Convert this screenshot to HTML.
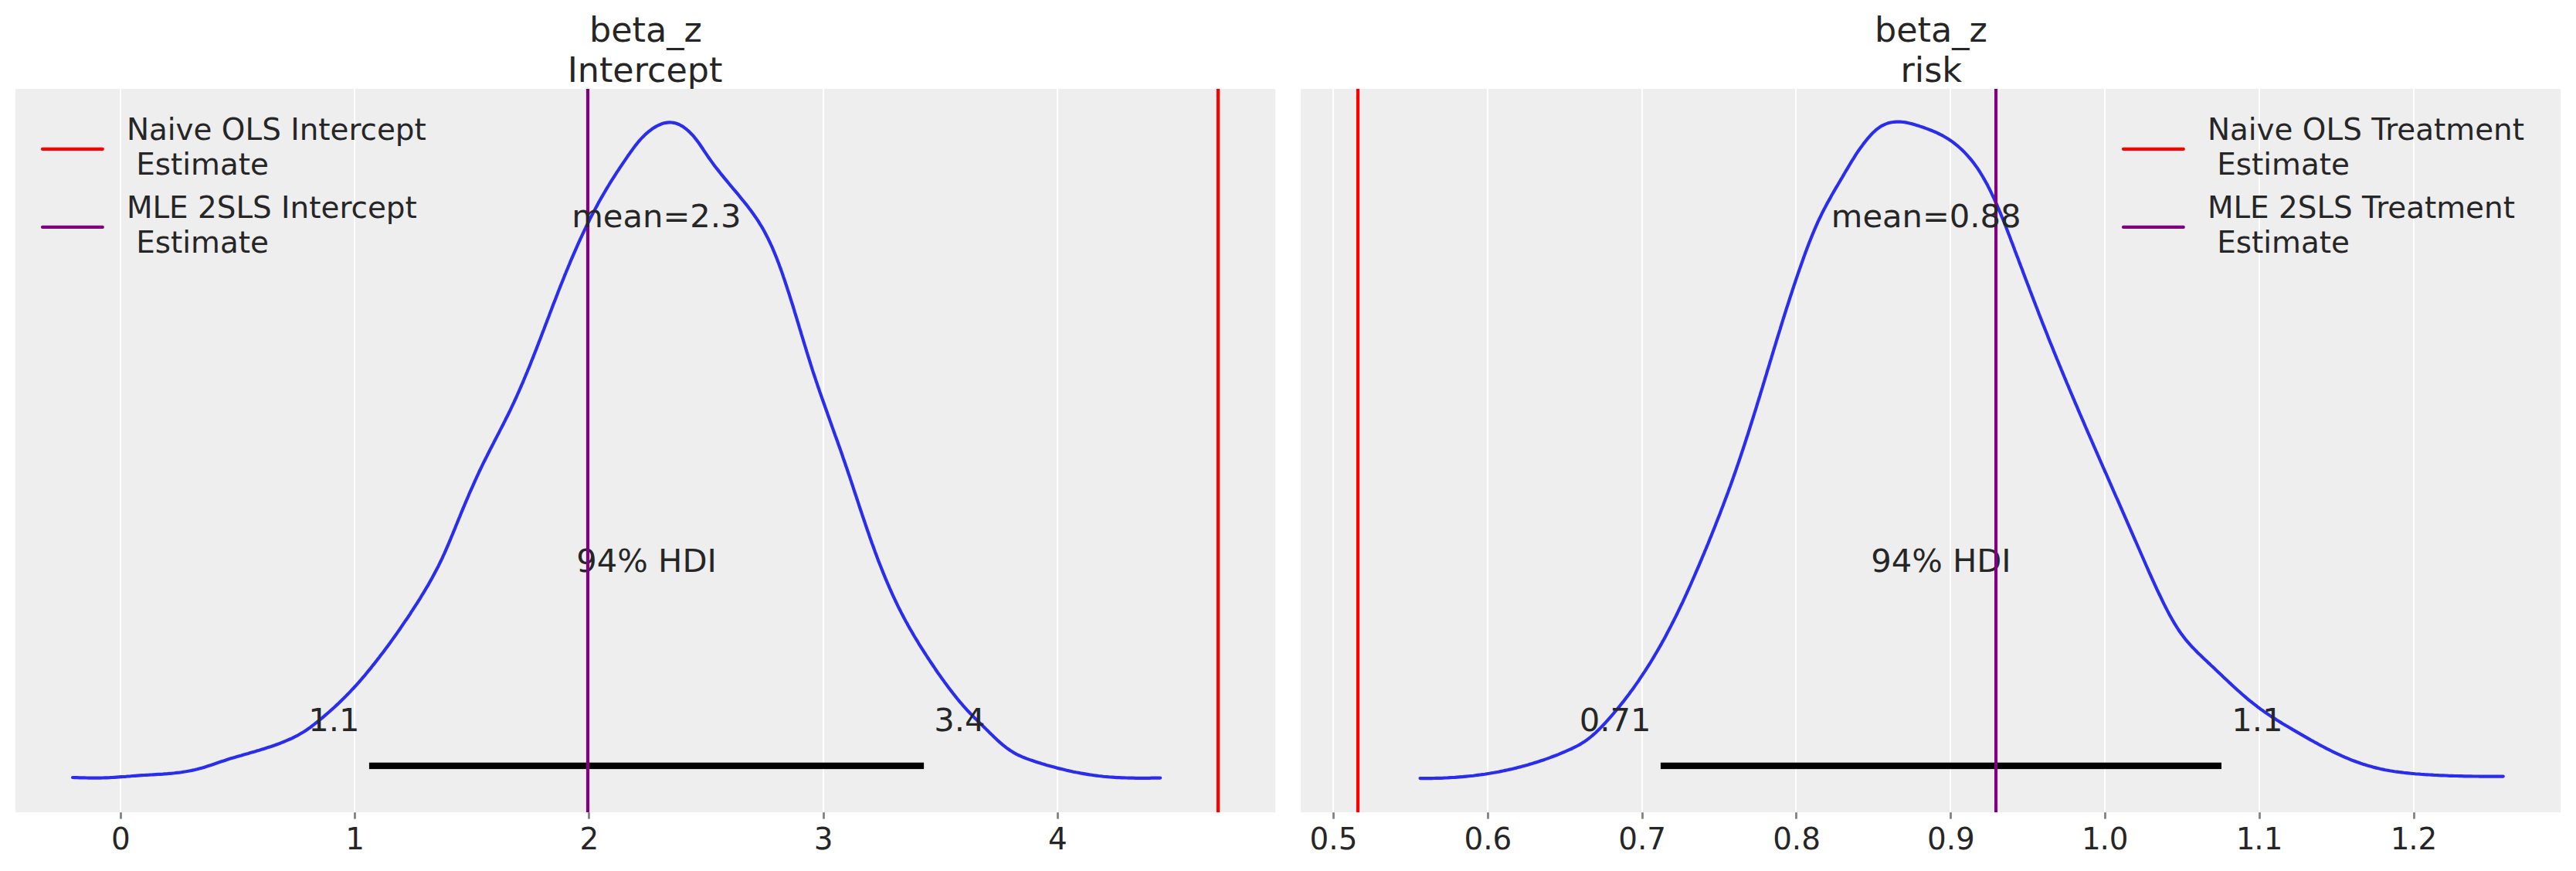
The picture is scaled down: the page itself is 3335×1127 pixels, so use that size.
<!DOCTYPE html>
<html lang="en"><head><meta charset="utf-8"><title>Posterior plots: beta_z Intercept and risk</title>
<style>html,body{margin:0;padding:0;background:#fff}svg{display:block}</style></head>
<body>
<svg width="3335" height="1127" viewBox="0 0 3335 1127" font-family="DejaVu Sans, Liberation Sans, sans-serif" fill="#262626">
<rect width="3335" height="1127" fill="#ffffff"/>
<rect x="20" y="115" width="1631" height="936" fill="#eeeeee"/>
<rect x="155" y="115" width="2" height="936" fill="#ffffff"/>
<rect x="458" y="115" width="2" height="936" fill="#ffffff"/>
<rect x="761" y="115" width="2" height="936" fill="#ffffff"/>
<rect x="1065" y="115" width="2" height="936" fill="#ffffff"/>
<rect x="1368" y="115" width="2" height="936" fill="#ffffff"/>
<path d="M94.0,1006.0 L97.0,1006.1 L100.0,1006.2 L103.0,1006.3 L106.0,1006.4 L109.0,1006.4 L112.0,1006.5 L115.0,1006.6 L118.0,1006.6 L121.0,1006.7 L124.0,1006.7 L127.0,1006.6 L130.0,1006.6 L133.0,1006.5 L136.0,1006.4 L139.0,1006.3 L142.0,1006.2 L145.0,1006.0 L147.9,1005.8 L150.9,1005.6 L153.9,1005.4 L156.9,1005.2 L159.9,1005.0 L162.9,1004.8 L165.9,1004.5 L168.9,1004.3 L171.9,1004.0 L174.9,1003.8 L177.8,1003.6 L180.8,1003.4 L183.8,1003.2 L186.8,1003.0 L189.8,1002.8 L192.8,1002.7 L195.8,1002.5 L198.8,1002.3 L201.8,1002.1 L204.8,1001.9 L207.8,1001.8 L210.8,1001.6 L213.8,1001.3 L216.8,1001.1 L219.8,1000.8 L222.8,1000.6 L225.8,1000.3 L228.8,999.9 L231.8,999.6 L234.7,999.2 L237.7,998.7 L240.7,998.3 L243.6,997.8 L246.6,997.2 L249.5,996.6 L252.4,996.0 L255.3,995.3 L258.2,994.5 L261.1,993.8 L264.0,992.9 L266.8,992.0 L269.7,991.1 L272.5,990.2 L275.4,989.2 L278.2,988.3 L281.0,987.3 L283.9,986.3 L286.7,985.3 L289.6,984.4 L292.4,983.5 L295.3,982.5 L298.1,981.6 L301.0,980.8 L303.9,979.9 L306.8,979.0 L309.7,978.2 L312.6,977.4 L315.5,976.5 L318.4,975.7 L321.3,974.9 L324.1,974.0 L327.0,973.2 L329.9,972.4 L332.8,971.5 L335.7,970.7 L338.6,969.8 L341.4,968.9 L344.3,968.0 L347.2,967.1 L350.0,966.2 L352.9,965.2 L355.7,964.3 L358.5,963.2 L361.3,962.2 L364.1,961.1 L366.9,960.0 L369.6,958.9 L372.4,957.7 L375.1,956.5 L377.8,955.3 L380.5,954.0 L383.1,952.6 L385.8,951.3 L388.4,949.8 L390.9,948.3 L393.5,946.8 L395.9,945.2 L398.4,943.5 L400.8,941.8 L403.2,940.0 L405.6,938.2 L407.9,936.4 L410.3,934.5 L412.6,932.6 L414.9,930.7 L417.2,928.8 L419.5,926.9 L421.8,924.9 L424.0,923.0 L426.3,921.0 L428.5,919.0 L430.8,917.0 L433.0,915.0 L435.2,912.9 L437.4,910.9 L439.6,908.8 L441.7,906.7 L443.9,904.6 L446.0,902.5 L448.1,900.4 L450.2,898.2 L452.3,896.1 L454.4,893.9 L456.4,891.7 L458.5,889.5 L460.5,887.3 L462.5,885.1 L464.5,882.9 L466.4,880.6 L468.4,878.4 L470.3,876.1 L472.3,873.8 L474.2,871.5 L476.1,869.2 L478.0,866.9 L479.9,864.6 L481.7,862.3 L483.6,859.9 L485.5,857.6 L487.3,855.2 L489.1,852.9 L491.0,850.5 L492.8,848.1 L494.6,845.8 L496.4,843.4 L498.2,841.0 L500.0,838.6 L501.8,836.2 L503.6,833.7 L505.4,831.3 L507.1,828.9 L508.9,826.4 L510.6,824.0 L512.4,821.5 L514.1,819.1 L515.8,816.6 L517.5,814.2 L519.2,811.7 L520.9,809.2 L522.6,806.7 L524.3,804.2 L526.0,801.8 L527.7,799.3 L529.3,796.8 L531.0,794.3 L532.6,791.7 L534.3,789.2 L535.9,786.7 L537.5,784.2 L539.2,781.7 L540.8,779.1 L542.4,776.6 L544.0,774.1 L545.5,771.5 L547.1,768.9 L548.7,766.4 L550.2,763.8 L551.7,761.2 L553.3,758.7 L554.8,756.1 L556.2,753.5 L557.7,750.9 L559.2,748.2 L560.6,745.6 L562.0,743.0 L563.4,740.3 L564.8,737.7 L566.2,735.0 L567.6,732.4 L568.9,729.7 L570.2,727.0 L571.5,724.3 L572.8,721.6 L574.0,718.8 L575.3,716.1 L576.5,713.4 L577.7,710.6 L578.9,707.9 L580.1,705.1 L581.3,702.3 L582.4,699.6 L583.6,696.8 L584.7,694.0 L585.9,691.2 L587.0,688.4 L588.2,685.7 L589.3,682.9 L590.4,680.1 L591.6,677.3 L592.7,674.5 L593.8,671.7 L595.0,669.0 L596.1,666.2 L597.2,663.4 L598.4,660.6 L599.5,657.9 L600.7,655.1 L601.9,652.3 L603.0,649.6 L604.2,646.8 L605.4,644.1 L606.6,641.3 L607.7,638.5 L608.9,635.8 L610.1,633.1 L611.4,630.3 L612.6,627.6 L613.8,624.9 L615.0,622.1 L616.3,619.4 L617.5,616.7 L618.8,614.0 L620.0,611.2 L621.3,608.5 L622.6,605.8 L623.9,603.1 L625.2,600.4 L626.5,597.7 L627.9,595.0 L629.2,592.4 L630.6,589.7 L631.9,587.0 L633.3,584.3 L634.6,581.6 L636.0,579.0 L637.4,576.3 L638.8,573.6 L640.1,570.9 L641.5,568.3 L642.9,565.6 L644.3,562.9 L645.7,560.3 L647.0,557.6 L648.4,554.9 L649.8,552.2 L651.2,549.6 L652.5,546.9 L653.9,544.2 L655.2,541.5 L656.6,538.8 L657.9,536.2 L659.2,533.5 L660.5,530.8 L661.8,528.1 L663.1,525.4 L664.4,522.6 L665.7,519.9 L666.9,517.2 L668.2,514.5 L669.4,511.7 L670.6,509.0 L671.8,506.3 L673.0,503.5 L674.2,500.8 L675.4,498.0 L676.6,495.3 L677.8,492.5 L678.9,489.8 L680.1,487.0 L681.2,484.3 L682.4,481.5 L683.5,478.7 L684.7,476.0 L685.8,473.2 L686.9,470.4 L688.0,467.6 L689.1,464.8 L690.2,462.1 L691.3,459.3 L692.4,456.5 L693.5,453.7 L694.6,450.9 L695.7,448.1 L696.8,445.3 L697.8,442.5 L698.9,439.7 L700.0,436.9 L701.1,434.1 L702.1,431.3 L703.2,428.5 L704.3,425.7 L705.3,422.9 L706.4,420.1 L707.5,417.3 L708.5,414.5 L709.6,411.7 L710.7,408.9 L711.7,406.1 L712.8,403.2 L713.9,400.4 L715.0,397.6 L716.0,394.8 L717.1,392.0 L718.2,389.2 L719.3,386.4 L720.4,383.6 L721.5,380.8 L722.5,378.0 L723.6,375.2 L724.7,372.4 L725.8,369.6 L727.0,366.8 L728.1,364.0 L729.2,361.2 L730.3,358.4 L731.4,355.6 L732.6,352.8 L733.7,350.0 L734.9,347.3 L736.0,344.5 L737.2,341.7 L738.3,338.9 L739.5,336.2 L740.7,333.4 L741.9,330.6 L743.1,327.9 L744.3,325.1 L745.5,322.4 L746.7,319.6 L747.9,316.9 L749.1,314.2 L750.4,311.4 L751.6,308.7 L752.9,306.0 L754.1,303.3 L755.4,300.6 L756.7,297.9 L758.0,295.2 L759.3,292.5 L760.6,289.8 L762.0,287.1 L763.3,284.4 L764.6,281.7 L766.0,279.1 L767.4,276.4 L768.8,273.8 L770.2,271.1 L771.6,268.5 L773.0,265.9 L774.4,263.3 L775.9,260.6 L777.3,258.0 L778.8,255.4 L780.3,252.9 L781.8,250.3 L783.3,247.7 L784.8,245.1 L786.3,242.6 L787.9,240.0 L789.4,237.5 L791.0,234.9 L792.6,232.4 L794.2,229.9 L795.8,227.3 L797.4,224.8 L799.0,222.3 L800.7,219.8 L802.3,217.3 L804.0,214.8 L805.7,212.3 L807.4,209.8 L809.1,207.3 L810.8,204.8 L812.5,202.3 L814.3,199.8 L816.0,197.3 L817.8,194.9 L819.6,192.4 L821.4,190.0 L823.2,187.6 L825.1,185.2 L827.0,182.9 L829.0,180.6 L831.1,178.4 L833.2,176.2 L835.3,174.1 L837.6,172.1 L839.9,170.2 L842.3,168.3 L844.7,166.5 L847.3,164.9 L849.9,163.4 L852.6,162.0 L855.4,160.8 L858.1,159.8 L860.9,159.1 L863.8,158.6 L866.6,158.4 L869.4,158.5 L872.2,158.9 L875.0,159.5 L877.7,160.5 L880.4,161.7 L882.9,163.1 L885.5,164.8 L887.9,166.6 L890.2,168.5 L892.5,170.6 L894.6,172.7 L896.7,174.9 L898.7,177.2 L900.6,179.6 L902.5,182.0 L904.3,184.5 L906.1,187.0 L907.8,189.5 L909.5,192.0 L911.2,194.6 L912.9,197.1 L914.6,199.7 L916.3,202.2 L918.1,204.7 L919.8,207.1 L921.6,209.6 L923.3,212.0 L925.1,214.4 L926.9,216.7 L928.8,219.1 L930.6,221.4 L932.4,223.7 L934.3,226.1 L936.2,228.4 L938.0,230.6 L939.9,232.9 L941.8,235.2 L943.7,237.5 L945.6,239.8 L947.5,242.0 L949.4,244.3 L951.4,246.6 L953.3,248.9 L955.2,251.2 L957.1,253.5 L959.0,255.8 L960.9,258.2 L962.8,260.5 L964.7,262.9 L966.6,265.2 L968.4,267.6 L970.2,270.0 L972.1,272.4 L973.8,274.8 L975.6,277.3 L977.3,279.7 L979.0,282.2 L980.7,284.7 L982.3,287.2 L983.9,289.8 L985.5,292.3 L987.0,294.9 L988.5,297.5 L989.9,300.1 L991.3,302.8 L992.7,305.4 L994.1,308.1 L995.4,310.8 L996.7,313.5 L997.9,316.2 L999.2,318.9 L1000.4,321.6 L1001.5,324.4 L1002.7,327.1 L1003.8,329.9 L1005.0,332.7 L1006.1,335.5 L1007.1,338.3 L1008.2,341.1 L1009.2,343.9 L1010.3,346.7 L1011.3,349.6 L1012.3,352.4 L1013.3,355.2 L1014.2,358.1 L1015.2,360.9 L1016.2,363.8 L1017.1,366.6 L1018.1,369.5 L1019.0,372.3 L1019.9,375.2 L1020.9,378.1 L1021.8,380.9 L1022.7,383.8 L1023.6,386.6 L1024.5,389.5 L1025.4,392.4 L1026.3,395.2 L1027.2,398.1 L1028.1,401.0 L1028.9,403.9 L1029.8,406.7 L1030.7,409.6 L1031.6,412.5 L1032.4,415.4 L1033.3,418.2 L1034.2,421.1 L1035.0,424.0 L1035.9,426.9 L1036.8,429.7 L1037.6,432.6 L1038.5,435.5 L1039.4,438.4 L1040.2,441.2 L1041.1,444.1 L1042.0,447.0 L1042.9,449.8 L1043.7,452.7 L1044.6,455.6 L1045.5,458.4 L1046.4,461.3 L1047.3,464.2 L1048.2,467.0 L1049.1,469.9 L1050.0,472.8 L1050.9,475.6 L1051.8,478.5 L1052.7,481.3 L1053.7,484.2 L1054.6,487.0 L1055.6,489.9 L1056.5,492.7 L1057.5,495.5 L1058.4,498.4 L1059.4,501.2 L1060.4,504.0 L1061.3,506.9 L1062.3,509.7 L1063.3,512.5 L1064.3,515.4 L1065.3,518.2 L1066.3,521.0 L1067.3,523.8 L1068.3,526.7 L1069.3,529.5 L1070.3,532.3 L1071.3,535.1 L1072.3,538.0 L1073.3,540.8 L1074.3,543.6 L1075.3,546.4 L1076.3,549.2 L1077.3,552.1 L1078.3,554.9 L1079.3,557.7 L1080.3,560.5 L1081.3,563.4 L1082.4,566.2 L1083.4,569.0 L1084.4,571.8 L1085.4,574.7 L1086.4,577.5 L1087.4,580.3 L1088.4,583.1 L1089.4,586.0 L1090.4,588.8 L1091.3,591.6 L1092.3,594.5 L1093.3,597.3 L1094.3,600.2 L1095.2,603.0 L1096.2,605.8 L1097.2,608.7 L1098.1,611.5 L1099.1,614.4 L1100.1,617.2 L1101.0,620.1 L1102.0,622.9 L1102.9,625.8 L1103.9,628.6 L1104.8,631.5 L1105.7,634.3 L1106.7,637.2 L1107.6,640.0 L1108.6,642.9 L1109.5,645.8 L1110.5,648.6 L1111.4,651.5 L1112.3,654.3 L1113.3,657.2 L1114.2,660.0 L1115.2,662.9 L1116.1,665.7 L1117.1,668.6 L1118.1,671.4 L1119.0,674.3 L1120.0,677.1 L1120.9,680.0 L1121.9,682.8 L1122.9,685.7 L1123.9,688.5 L1124.9,691.3 L1125.8,694.2 L1126.8,697.0 L1127.8,699.8 L1128.8,702.7 L1129.9,705.5 L1130.9,708.3 L1131.9,711.1 L1132.9,713.9 L1134.0,716.7 L1135.0,719.6 L1136.1,722.4 L1137.1,725.2 L1138.2,728.0 L1139.3,730.8 L1140.4,733.5 L1141.5,736.3 L1142.6,739.1 L1143.7,741.9 L1144.9,744.7 L1146.0,747.4 L1147.1,750.2 L1148.3,752.9 L1149.5,755.7 L1150.7,758.4 L1151.9,761.2 L1153.1,763.9 L1154.3,766.6 L1155.5,769.4 L1156.8,772.1 L1158.1,774.8 L1159.3,777.5 L1160.6,780.2 L1161.9,782.9 L1163.2,785.6 L1164.6,788.3 L1165.9,790.9 L1167.3,793.6 L1168.7,796.3 L1170.1,798.9 L1171.5,801.6 L1172.9,804.2 L1174.4,806.8 L1175.8,809.5 L1177.3,812.1 L1178.8,814.7 L1180.3,817.3 L1181.8,819.9 L1183.3,822.5 L1184.8,825.0 L1186.4,827.6 L1188.0,830.2 L1189.5,832.8 L1191.1,835.3 L1192.7,837.9 L1194.3,840.4 L1195.9,842.9 L1197.6,845.5 L1199.2,848.0 L1200.8,850.5 L1202.5,853.0 L1204.1,855.5 L1205.8,858.0 L1207.5,860.5 L1209.2,863.0 L1210.8,865.5 L1212.5,868.0 L1214.2,870.5 L1216.0,872.9 L1217.7,875.4 L1219.4,877.8 L1221.2,880.2 L1222.9,882.7 L1224.7,885.1 L1226.5,887.5 L1228.3,889.9 L1230.1,892.3 L1231.9,894.6 L1233.7,897.0 L1235.6,899.3 L1237.4,901.7 L1239.3,904.0 L1241.2,906.3 L1243.1,908.6 L1245.1,910.9 L1247.0,913.1 L1249.0,915.3 L1251.0,917.6 L1253.0,919.8 L1255.1,922.0 L1257.1,924.1 L1259.2,926.3 L1261.3,928.4 L1263.5,930.5 L1265.6,932.6 L1267.7,934.7 L1269.9,936.8 L1272.0,938.9 L1274.2,941.0 L1276.3,943.1 L1278.5,945.3 L1280.6,947.4 L1282.8,949.5 L1284.9,951.6 L1287.1,953.7 L1289.3,955.8 L1291.5,957.9 L1293.7,959.9 L1296.0,961.9 L1298.3,963.9 L1300.6,965.7 L1303.0,967.6 L1305.4,969.3 L1307.9,971.0 L1310.4,972.6 L1312.9,974.2 L1315.5,975.6 L1318.2,977.0 L1320.9,978.2 L1323.6,979.4 L1326.4,980.5 L1329.2,981.6 L1332.0,982.6 L1334.8,983.6 L1337.6,984.5 L1340.5,985.5 L1343.4,986.4 L1346.2,987.3 L1349.1,988.2 L1352.0,989.0 L1354.8,989.9 L1357.7,990.7 L1360.6,991.5 L1363.5,992.3 L1366.4,993.1 L1369.3,993.9 L1372.2,994.6 L1375.2,995.3 L1378.1,996.0 L1381.0,996.7 L1383.9,997.4 L1386.9,998.0 L1389.8,998.7 L1392.8,999.3 L1395.7,999.8 L1398.7,1000.4 L1401.6,1000.9 L1404.6,1001.4 L1407.5,1001.9 L1410.5,1002.4 L1413.5,1002.8 L1416.4,1003.2 L1419.4,1003.6 L1422.4,1004.0 L1425.3,1004.3 L1428.3,1004.7 L1431.3,1005.0 L1434.3,1005.2 L1437.3,1005.5 L1440.3,1005.7 L1443.2,1005.9 L1446.2,1006.1 L1449.2,1006.2 L1452.2,1006.3 L1455.2,1006.4 L1458.2,1006.5 L1461.2,1006.6 L1464.2,1006.7 L1467.2,1006.7 L1470.2,1006.8 L1473.2,1006.8 L1476.2,1006.8 L1479.2,1006.8 L1482.2,1006.8 L1485.2,1006.8 L1488.2,1006.8 L1491.2,1006.7 L1494.2,1006.7 L1497.2,1006.7 L1500.2,1006.6 L1502.2,1006.6" fill="none" stroke="#2a2eec" stroke-width="4.17" stroke-linecap="round" stroke-linejoin="round"/>
<rect x="477.9" y="986.7" width="718.2" height="8.4" fill="#000000"/>
<text x="837.0" y="739.8" font-size="41.67" text-anchor="middle">94% HDI</text>
<rect x="1574.9" y="115" width="4.3" height="936" fill="#ff0000"/>
<rect x="758.9" y="115" width="4.2" height="936" fill="#800080"/>
<rect x="155.1" y="1051.2" width="2.75" height="8.4" fill="#808080"/>
<text x="156.45" y="1099.4" font-size="38.89" text-anchor="middle">0</text>
<rect x="458.1" y="1051.2" width="2.75" height="8.4" fill="#808080"/>
<text x="459.71" y="1099.4" font-size="38.89" text-anchor="middle">1</text>
<rect x="761.1" y="1051.2" width="2.75" height="8.4" fill="#808080"/>
<text x="762.97" y="1099.4" font-size="38.89" text-anchor="middle">2</text>
<rect x="1065.1" y="1051.2" width="2.75" height="8.4" fill="#808080"/>
<text x="1066.23" y="1099.4" font-size="38.89" text-anchor="middle">3</text>
<rect x="1368.1" y="1051.2" width="2.75" height="8.4" fill="#808080"/>
<text x="1369.49" y="1099.4" font-size="38.89" text-anchor="middle">4</text>
<text x="849.9" y="293.8" font-size="41.67" text-anchor="middle">mean=2.3</text>
<text x="465.5" y="946.0" font-size="41.67" text-anchor="end">1.1</text>
<text x="1209.3" y="946.0" font-size="41.67" text-anchor="start">3.4</text>
<text x="835.9" y="54.0" font-size="44.44" text-anchor="middle">beta_z</text>
<text x="835.0" y="106.3" font-size="44.44" text-anchor="middle">Intercept</text>
<line x1="55.0" x2="132.8" y1="192.9" y2="192.9" stroke="#ff0000" stroke-width="4.17" stroke-linecap="round"/>
<text x="163.9" y="181.3" font-size="38.89" xml:space="preserve">Naive OLS Intercept</text>
<text x="163.9" y="225.5" font-size="38.89" xml:space="preserve"> Estimate</text>
<line x1="55.0" x2="132.8" y1="293.9" y2="293.9" stroke="#800080" stroke-width="4.17" stroke-linecap="round"/>
<text x="163.9" y="282.3" font-size="38.89" xml:space="preserve">MLE 2SLS Intercept</text>
<text x="163.9" y="326.5" font-size="38.89" xml:space="preserve"> Estimate</text>
<rect x="1684" y="115" width="1631" height="936" fill="#eeeeee"/>
<rect x="1725" y="115" width="2" height="936" fill="#ffffff"/>
<rect x="1925" y="115" width="2" height="936" fill="#ffffff"/>
<rect x="2125" y="115" width="2" height="936" fill="#ffffff"/>
<rect x="2324" y="115" width="2" height="936" fill="#ffffff"/>
<rect x="2524" y="115" width="2" height="936" fill="#ffffff"/>
<rect x="2724" y="115" width="2" height="936" fill="#ffffff"/>
<rect x="2924" y="115" width="2" height="936" fill="#ffffff"/>
<rect x="3124" y="115" width="2" height="936" fill="#ffffff"/>
<path d="M1838.5,1007.1 L1841.5,1007.1 L1844.5,1007.1 L1847.5,1007.1 L1850.5,1007.1 L1853.5,1007.1 L1856.5,1007.0 L1859.5,1006.9 L1862.5,1006.9 L1865.5,1006.8 L1868.5,1006.7 L1871.5,1006.5 L1874.5,1006.4 L1877.5,1006.2 L1880.5,1006.0 L1883.5,1005.9 L1886.5,1005.6 L1889.5,1005.4 L1892.5,1005.2 L1895.4,1004.9 L1898.4,1004.6 L1901.4,1004.3 L1904.4,1004.0 L1907.4,1003.7 L1910.3,1003.3 L1913.3,1002.9 L1916.3,1002.5 L1919.2,1002.1 L1922.2,1001.7 L1925.2,1001.2 L1928.1,1000.8 L1931.1,1000.3 L1934.0,999.8 L1937.0,999.2 L1939.9,998.7 L1942.9,998.1 L1945.8,997.5 L1948.8,996.9 L1951.7,996.3 L1954.6,995.6 L1957.6,995.0 L1960.5,994.3 L1963.4,993.6 L1966.3,992.8 L1969.2,992.1 L1972.1,991.3 L1975.0,990.5 L1977.9,989.7 L1980.8,988.8 L1983.7,988.0 L1986.6,987.1 L1989.4,986.2 L1992.3,985.3 L1995.2,984.3 L1998.0,983.4 L2000.9,982.4 L2003.7,981.4 L2006.5,980.4 L2009.3,979.3 L2012.1,978.2 L2014.9,977.2 L2017.7,976.1 L2020.5,974.9 L2023.2,973.8 L2026.0,972.6 L2028.7,971.4 L2031.5,970.2 L2034.2,969.0 L2036.9,967.7 L2039.5,966.4 L2042.2,965.0 L2044.8,963.6 L2047.3,962.1 L2049.8,960.5 L2052.3,958.9 L2054.7,957.2 L2057.1,955.4 L2059.4,953.5 L2061.7,951.6 L2063.9,949.7 L2066.1,947.7 L2068.3,945.6 L2070.4,943.5 L2072.5,941.4 L2074.6,939.2 L2076.7,937.0 L2078.7,934.8 L2080.7,932.6 L2082.7,930.3 L2084.7,928.1 L2086.7,925.8 L2088.7,923.5 L2090.6,921.2 L2092.5,918.9 L2094.5,916.6 L2096.4,914.3 L2098.2,912.0 L2100.1,909.6 L2102.0,907.3 L2103.8,904.9 L2105.6,902.5 L2107.5,900.1 L2109.3,897.7 L2111.0,895.3 L2112.8,892.9 L2114.6,890.5 L2116.3,888.1 L2118.0,885.6 L2119.8,883.1 L2121.5,880.7 L2123.1,878.2 L2124.8,875.7 L2126.5,873.2 L2128.1,870.7 L2129.8,868.2 L2131.4,865.7 L2133.0,863.2 L2134.6,860.6 L2136.2,858.1 L2137.8,855.5 L2139.3,853.0 L2140.9,850.4 L2142.4,847.8 L2143.9,845.3 L2145.4,842.7 L2146.9,840.1 L2148.4,837.5 L2149.9,834.9 L2151.4,832.2 L2152.8,829.6 L2154.3,827.0 L2155.7,824.4 L2157.1,821.7 L2158.5,819.1 L2159.9,816.4 L2161.3,813.8 L2162.7,811.1 L2164.1,808.4 L2165.4,805.8 L2166.8,803.1 L2168.1,800.4 L2169.5,797.7 L2170.8,795.0 L2172.1,792.3 L2173.4,789.6 L2174.7,786.9 L2176.0,784.2 L2177.3,781.5 L2178.6,778.8 L2179.8,776.1 L2181.1,773.4 L2182.3,770.6 L2183.6,767.9 L2184.8,765.2 L2186.1,762.4 L2187.3,759.7 L2188.5,757.0 L2189.7,754.2 L2190.9,751.5 L2192.1,748.7 L2193.3,746.0 L2194.5,743.2 L2195.7,740.4 L2196.9,737.7 L2198.1,734.9 L2199.3,732.2 L2200.4,729.4 L2201.6,726.6 L2202.8,723.9 L2203.9,721.1 L2205.1,718.3 L2206.3,715.6 L2207.4,712.8 L2208.6,710.0 L2209.7,707.2 L2210.9,704.5 L2212.0,701.7 L2213.1,698.9 L2214.2,696.1 L2215.4,693.4 L2216.5,690.6 L2217.6,687.8 L2218.7,685.0 L2219.8,682.2 L2220.9,679.4 L2222.0,676.6 L2223.1,673.8 L2224.2,671.0 L2225.3,668.2 L2226.4,665.4 L2227.5,662.6 L2228.5,659.8 L2229.6,657.0 L2230.7,654.2 L2231.7,651.4 L2232.8,648.6 L2233.8,645.8 L2234.9,643.0 L2235.9,640.2 L2237.0,637.4 L2238.0,634.6 L2239.0,631.7 L2240.1,628.9 L2241.1,626.1 L2242.1,623.3 L2243.1,620.5 L2244.1,617.6 L2245.1,614.8 L2246.1,612.0 L2247.1,609.1 L2248.1,606.3 L2249.0,603.5 L2250.0,600.6 L2251.0,597.8 L2251.9,595.0 L2252.9,592.1 L2253.8,589.3 L2254.8,586.4 L2255.7,583.6 L2256.7,580.7 L2257.6,577.9 L2258.6,575.0 L2259.5,572.2 L2260.4,569.3 L2261.3,566.5 L2262.3,563.6 L2263.2,560.8 L2264.1,557.9 L2265.0,555.1 L2265.9,552.2 L2266.8,549.3 L2267.7,546.5 L2268.6,543.6 L2269.5,540.8 L2270.4,537.9 L2271.3,535.0 L2272.2,532.2 L2273.1,529.3 L2274.0,526.4 L2274.8,523.6 L2275.7,520.7 L2276.6,517.8 L2277.5,515.0 L2278.4,512.1 L2279.2,509.2 L2280.1,506.4 L2281.0,503.5 L2281.9,500.6 L2282.7,497.8 L2283.6,494.9 L2284.5,492.0 L2285.3,489.1 L2286.2,486.3 L2287.1,483.4 L2287.9,480.5 L2288.8,477.7 L2289.7,474.8 L2290.6,471.9 L2291.4,469.0 L2292.3,466.2 L2293.2,463.3 L2294.0,460.4 L2294.9,457.6 L2295.8,454.7 L2296.6,451.8 L2297.5,448.9 L2298.4,446.1 L2299.3,443.2 L2300.1,440.3 L2301.0,437.5 L2301.9,434.6 L2302.8,431.7 L2303.7,428.9 L2304.6,426.0 L2305.4,423.1 L2306.3,420.3 L2307.2,417.4 L2308.1,414.5 L2309.0,411.7 L2309.9,408.8 L2310.8,405.9 L2311.7,403.1 L2312.6,400.2 L2313.5,397.4 L2314.5,394.5 L2315.4,391.6 L2316.3,388.8 L2317.2,385.9 L2318.1,383.1 L2319.1,380.2 L2320.0,377.4 L2320.9,374.5 L2321.9,371.7 L2322.8,368.8 L2323.8,366.0 L2324.7,363.1 L2325.7,360.3 L2326.7,357.4 L2327.6,354.6 L2328.6,351.8 L2329.6,348.9 L2330.6,346.1 L2331.6,343.3 L2332.6,340.4 L2333.6,337.6 L2334.6,334.8 L2335.6,331.9 L2336.6,329.1 L2337.6,326.3 L2338.7,323.5 L2339.7,320.7 L2340.8,317.9 L2341.9,315.1 L2343.0,312.3 L2344.1,309.5 L2345.2,306.7 L2346.3,303.9 L2347.5,301.2 L2348.6,298.4 L2349.8,295.7 L2351.0,292.9 L2352.2,290.2 L2353.4,287.4 L2354.7,284.7 L2356.0,282.0 L2357.3,279.3 L2358.6,276.6 L2359.9,273.9 L2361.3,271.3 L2362.7,268.6 L2364.1,266.0 L2365.5,263.3 L2366.9,260.7 L2368.4,258.1 L2369.9,255.4 L2371.3,252.8 L2372.8,250.2 L2374.3,247.6 L2375.8,245.0 L2377.3,242.4 L2378.9,239.8 L2380.4,237.2 L2381.9,234.7 L2383.4,232.1 L2385.0,229.5 L2386.5,226.9 L2388.0,224.3 L2389.5,221.7 L2391.1,219.1 L2392.6,216.6 L2394.1,214.0 L2395.7,211.4 L2397.2,208.8 L2398.8,206.3 L2400.4,203.8 L2402.0,201.2 L2403.6,198.7 L2405.3,196.2 L2407.0,193.8 L2408.7,191.3 L2410.5,188.9 L2412.3,186.4 L2414.1,184.1 L2416.0,181.7 L2417.9,179.4 L2419.9,177.1 L2421.9,174.8 L2424.0,172.6 L2426.2,170.5 L2428.4,168.4 L2430.7,166.6 L2433.1,164.8 L2435.6,163.2 L2438.2,161.8 L2440.9,160.6 L2443.7,159.6 L2446.5,158.8 L2449.4,158.2 L2452.3,157.8 L2455.3,157.6 L2458.2,157.5 L2461.2,157.7 L2464.2,158.0 L2467.1,158.4 L2470.1,159.0 L2473.0,159.7 L2476.0,160.4 L2478.9,161.3 L2481.8,162.2 L2484.7,163.1 L2487.6,164.1 L2490.5,165.0 L2493.4,166.1 L2496.2,167.1 L2499.0,168.2 L2501.8,169.3 L2504.6,170.5 L2507.3,171.7 L2510.0,173.0 L2512.7,174.3 L2515.4,175.7 L2518.0,177.2 L2520.5,178.7 L2523.0,180.3 L2525.5,181.9 L2527.9,183.7 L2530.3,185.5 L2532.6,187.3 L2534.9,189.2 L2537.2,191.2 L2539.4,193.2 L2541.5,195.3 L2543.6,197.4 L2545.7,199.6 L2547.7,201.8 L2549.7,204.1 L2551.6,206.4 L2553.5,208.7 L2555.3,211.1 L2557.1,213.5 L2558.9,215.9 L2560.6,218.4 L2562.2,220.9 L2563.8,223.4 L2565.4,226.0 L2566.9,228.5 L2568.4,231.1 L2569.9,233.7 L2571.3,236.3 L2572.8,238.9 L2574.1,241.6 L2575.5,244.3 L2576.8,246.9 L2578.1,249.6 L2579.4,252.3 L2580.7,255.0 L2581.9,257.7 L2583.2,260.5 L2584.4,263.2 L2585.6,265.9 L2586.8,268.7 L2588.0,271.4 L2589.1,274.2 L2590.3,276.9 L2591.4,279.7 L2592.5,282.5 L2593.7,285.2 L2594.8,288.0 L2595.9,290.8 L2597.0,293.6 L2598.1,296.4 L2599.2,299.2 L2600.2,302.0 L2601.3,304.8 L2602.4,307.6 L2603.4,310.4 L2604.5,313.2 L2605.6,316.0 L2606.6,318.8 L2607.7,321.6 L2608.7,324.4 L2609.8,327.2 L2610.8,330.0 L2611.9,332.8 L2613.0,335.6 L2614.0,338.4 L2615.1,341.2 L2616.1,344.0 L2617.2,346.8 L2618.3,349.6 L2619.3,352.5 L2620.4,355.3 L2621.4,358.1 L2622.5,360.9 L2623.6,363.7 L2624.6,366.5 L2625.7,369.3 L2626.8,372.1 L2627.8,374.9 L2628.9,377.7 L2630.0,380.5 L2631.0,383.3 L2632.1,386.1 L2633.2,388.9 L2634.3,391.7 L2635.3,394.5 L2636.4,397.3 L2637.5,400.1 L2638.6,402.9 L2639.6,405.7 L2640.7,408.5 L2641.8,411.3 L2642.9,414.1 L2644.0,416.9 L2645.1,419.7 L2646.2,422.4 L2647.3,425.2 L2648.4,428.0 L2649.5,430.8 L2650.6,433.6 L2651.7,436.4 L2652.8,439.2 L2653.9,442.0 L2655.0,444.7 L2656.2,447.5 L2657.3,450.3 L2658.4,453.1 L2659.5,455.9 L2660.7,458.7 L2661.8,461.4 L2662.9,464.2 L2664.1,467.0 L2665.2,469.8 L2666.3,472.5 L2667.5,475.3 L2668.6,478.1 L2669.8,480.9 L2670.9,483.6 L2672.1,486.4 L2673.2,489.2 L2674.4,491.9 L2675.5,494.7 L2676.7,497.5 L2677.9,500.2 L2679.0,503.0 L2680.2,505.8 L2681.3,508.5 L2682.5,511.3 L2683.7,514.1 L2684.9,516.8 L2686.0,519.6 L2687.2,522.4 L2688.4,525.1 L2689.6,527.9 L2690.7,530.6 L2691.9,533.4 L2693.1,536.2 L2694.3,538.9 L2695.5,541.7 L2696.7,544.4 L2697.9,547.2 L2699.0,549.9 L2700.2,552.7 L2701.4,555.4 L2702.6,558.2 L2703.8,561.0 L2705.0,563.7 L2706.2,566.5 L2707.4,569.2 L2708.6,572.0 L2709.8,574.7 L2711.0,577.5 L2712.2,580.2 L2713.4,583.0 L2714.6,585.7 L2715.8,588.5 L2717.0,591.2 L2718.2,594.0 L2719.4,596.7 L2720.6,599.5 L2721.8,602.2 L2723.0,605.0 L2724.2,607.7 L2725.4,610.4 L2726.7,613.2 L2727.9,615.9 L2729.1,618.7 L2730.3,621.4 L2731.5,624.2 L2732.7,626.9 L2733.9,629.7 L2735.1,632.4 L2736.3,635.2 L2737.5,637.9 L2738.7,640.7 L2739.9,643.4 L2741.2,646.1 L2742.4,648.9 L2743.6,651.6 L2744.8,654.4 L2746.0,657.1 L2747.2,659.9 L2748.4,662.6 L2749.6,665.4 L2750.8,668.1 L2752.0,670.8 L2753.2,673.6 L2754.4,676.3 L2755.6,679.1 L2756.8,681.8 L2758.0,684.6 L2759.2,687.3 L2760.4,690.1 L2761.6,692.8 L2762.8,695.6 L2764.0,698.3 L2765.2,701.0 L2766.4,703.8 L2767.6,706.5 L2768.8,709.3 L2770.0,712.0 L2771.2,714.8 L2772.4,717.5 L2773.6,720.3 L2774.8,723.0 L2776.0,725.8 L2777.2,728.5 L2778.4,731.3 L2779.6,734.0 L2780.8,736.7 L2782.0,739.5 L2783.2,742.2 L2784.5,745.0 L2785.7,747.7 L2786.9,750.4 L2788.2,753.2 L2789.4,755.9 L2790.7,758.6 L2791.9,761.3 L2793.2,764.1 L2794.5,766.8 L2795.8,769.5 L2797.1,772.2 L2798.4,774.9 L2799.7,777.6 L2801.0,780.3 L2802.4,783.1 L2803.7,785.7 L2805.1,788.4 L2806.5,791.1 L2807.9,793.8 L2809.3,796.4 L2810.8,799.1 L2812.3,801.7 L2813.8,804.3 L2815.3,806.9 L2816.9,809.4 L2818.5,812.0 L2820.1,814.5 L2821.8,817.0 L2823.5,819.4 L2825.3,821.8 L2827.1,824.2 L2828.9,826.6 L2830.8,828.9 L2832.7,831.1 L2834.7,833.4 L2836.7,835.6 L2838.7,837.8 L2840.8,839.9 L2842.9,842.0 L2845.0,844.2 L2847.1,846.3 L2849.3,848.3 L2851.5,850.4 L2853.6,852.5 L2855.8,854.5 L2858.0,856.6 L2860.2,858.6 L2862.4,860.7 L2864.6,862.7 L2866.8,864.8 L2869.0,866.9 L2871.1,868.9 L2873.3,871.0 L2875.5,873.1 L2877.7,875.2 L2879.8,877.2 L2882.0,879.3 L2884.2,881.3 L2886.4,883.4 L2888.6,885.4 L2890.8,887.5 L2893.0,889.5 L2895.2,891.5 L2897.4,893.5 L2899.7,895.5 L2901.9,897.5 L2904.2,899.5 L2906.4,901.4 L2908.7,903.4 L2911.0,905.3 L2913.3,907.2 L2915.7,909.0 L2918.0,910.9 L2920.4,912.7 L2922.7,914.6 L2925.1,916.3 L2927.5,918.1 L2930.0,919.8 L2932.4,921.6 L2934.9,923.3 L2937.4,924.9 L2939.8,926.6 L2942.4,928.2 L2944.9,929.8 L2947.4,931.5 L2949.9,933.0 L2952.5,934.6 L2955.0,936.2 L2957.6,937.7 L2960.2,939.3 L2962.8,940.8 L2965.4,942.3 L2968.0,943.9 L2970.6,945.4 L2973.2,946.9 L2975.8,948.4 L2978.4,949.9 L2981.0,951.4 L2983.6,952.9 L2986.2,954.4 L2988.8,955.9 L2991.4,957.4 L2994.1,958.8 L2996.7,960.3 L2999.3,961.7 L3002.0,963.2 L3004.6,964.6 L3007.3,966.0 L3009.9,967.4 L3012.6,968.8 L3015.3,970.1 L3018.0,971.5 L3020.6,972.8 L3023.3,974.1 L3026.0,975.4 L3028.8,976.6 L3031.5,977.9 L3034.2,979.1 L3036.9,980.3 L3039.7,981.4 L3042.4,982.6 L3045.2,983.7 L3048.0,984.7 L3050.8,985.8 L3053.6,986.8 L3056.4,987.8 L3059.2,988.7 L3062.0,989.6 L3064.9,990.5 L3067.7,991.3 L3070.6,992.1 L3073.5,992.9 L3076.4,993.6 L3079.3,994.3 L3082.2,995.0 L3085.2,995.6 L3088.1,996.2 L3091.1,996.7 L3094.0,997.3 L3097.0,997.7 L3100.0,998.2 L3103.0,998.6 L3106.0,999.0 L3108.9,999.4 L3112.0,999.8 L3115.0,1000.1 L3118.0,1000.4 L3121.0,1000.7 L3124.0,1001.0 L3127.0,1001.3 L3130.0,1001.5 L3133.1,1001.7 L3136.1,1002.0 L3139.1,1002.2 L3142.1,1002.3 L3145.1,1002.5 L3148.1,1002.7 L3151.1,1002.9 L3154.1,1003.0 L3157.1,1003.2 L3160.1,1003.3 L3163.1,1003.4 L3166.1,1003.5 L3169.1,1003.7 L3172.1,1003.8 L3175.1,1003.9 L3178.1,1004.0 L3181.1,1004.0 L3184.0,1004.1 L3187.0,1004.2 L3190.0,1004.3 L3193.0,1004.3 L3196.0,1004.4 L3199.0,1004.4 L3201.9,1004.5 L3204.9,1004.5 L3207.9,1004.5 L3210.9,1004.6 L3213.9,1004.6 L3216.9,1004.6 L3219.8,1004.6 L3222.8,1004.6 L3225.8,1004.6 L3228.8,1004.6 L3231.8,1004.6 L3234.8,1004.6 L3237.8,1004.6 L3240.8,1004.6" fill="none" stroke="#2a2eec" stroke-width="4.17" stroke-linecap="round" stroke-linejoin="round"/>
<rect x="2149.9" y="986.7" width="726.1" height="8.4" fill="#000000"/>
<text x="2512.9" y="739.8" font-size="41.67" text-anchor="middle">94% HDI</text>
<rect x="1755.9" y="115" width="4.2" height="936" fill="#ff0000"/>
<rect x="2582.0" y="115" width="4.1" height="936" fill="#800080"/>
<rect x="1725.1" y="1051.2" width="2.75" height="8.4" fill="#808080"/>
<text x="1726.50" y="1099.4" font-size="38.89" text-anchor="middle">0.5</text>
<rect x="1925.1" y="1051.2" width="2.75" height="8.4" fill="#808080"/>
<text x="1926.36" y="1099.4" font-size="38.89" text-anchor="middle">0.6</text>
<rect x="2125.1" y="1051.2" width="2.75" height="8.4" fill="#808080"/>
<text x="2126.21" y="1099.4" font-size="38.89" text-anchor="middle">0.7</text>
<rect x="2324.1" y="1051.2" width="2.75" height="8.4" fill="#808080"/>
<text x="2326.07" y="1099.4" font-size="38.89" text-anchor="middle">0.8</text>
<rect x="2524.1" y="1051.2" width="2.75" height="8.4" fill="#808080"/>
<text x="2525.93" y="1099.4" font-size="38.89" text-anchor="middle">0.9</text>
<rect x="2724.1" y="1051.2" width="2.75" height="8.4" fill="#808080"/>
<text x="2725.28" y="1099.4" font-size="38.89" text-anchor="middle">1<tspan dx="-1.2">.0</tspan></text>
<rect x="2924.1" y="1051.2" width="2.75" height="8.4" fill="#808080"/>
<text x="2925.14" y="1099.4" font-size="38.89" text-anchor="middle">1<tspan dx="-1.2">.1</tspan></text>
<rect x="3124.1" y="1051.2" width="2.75" height="8.4" fill="#808080"/>
<text x="3125.00" y="1099.4" font-size="38.89" text-anchor="middle">1<tspan dx="-1.2">.2</tspan></text>
<text x="2493.7" y="293.8" font-size="41.67" text-anchor="middle">mean=0.88</text>
<text x="2137.6" y="946.0" font-size="41.67" text-anchor="end">0.71</text>
<text x="2889.2" y="946.0" font-size="41.67" text-anchor="start">1.1</text>
<text x="2499.9" y="54.0" font-size="44.44" text-anchor="middle">beta_z</text>
<text x="2500.3" y="106.3" font-size="44.44" text-anchor="middle">risk</text>
<line x1="2749.0" x2="2826.8" y1="192.9" y2="192.9" stroke="#ff0000" stroke-width="4.17" stroke-linecap="round"/>
<text x="2857.9" y="181.3" font-size="38.89" xml:space="preserve">Naive OLS Treatment</text>
<text x="2857.9" y="225.5" font-size="38.89" xml:space="preserve"> Estimate</text>
<line x1="2749.0" x2="2826.8" y1="293.9" y2="293.9" stroke="#800080" stroke-width="4.17" stroke-linecap="round"/>
<text x="2857.9" y="282.3" font-size="38.89" xml:space="preserve">MLE 2SLS Treatment</text>
<text x="2857.9" y="326.5" font-size="38.89" xml:space="preserve"> Estimate</text>
</svg>
</body></html>
